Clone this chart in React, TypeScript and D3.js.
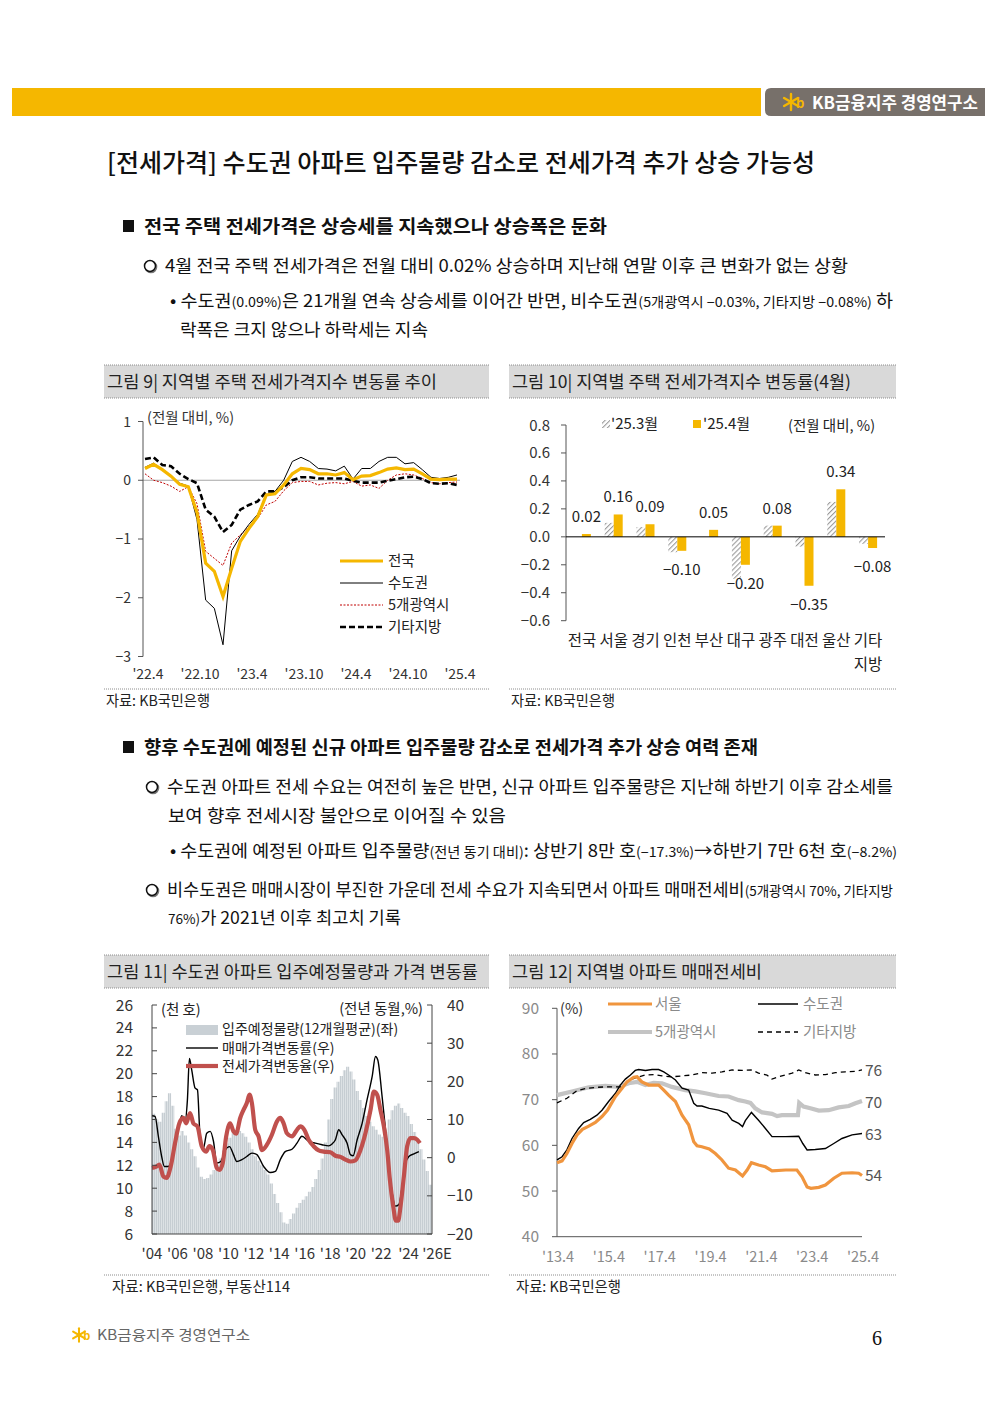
import React from "react";
import * as d3 from "d3";

const FONT = "'Noto Sans CJK KR','Noto Sans',sans-serif";
const GOLD = "#F5B700";

// ---------- Figure 9 : monthly change, '22.4 ~ '25.4 ----------
const f9Ticks = ["'22.4", "'22.10", "'23.4", "'23.10", "'24.4", "'24.10", "'25.4"];
const f9YTicks = [1, 0, -1, -2, -3];
const f9Nation = [0.20, 0.27, 0.18, 0.07, -0.07, -0.11, -0.55, -1.41, -1.55, -1.98, -1.5, -1.04, -0.82, -0.62, -0.25, -0.23, -0.08, 0.11, 0.20, 0.18, 0.11, 0.11, 0.09, 0.13, 0.01, 0.07, 0.08, 0.13, 0.19, 0.21, 0.18, 0.19, 0.11, 0.02, 0.01, 0.02, 0.02];
const f9Capital = [0.22, 0.29, 0.18, 0.07, -0.05, -0.10, -0.67, -2.04, -2.18, -2.80, -1.2, -0.95, -0.75, -0.58, -0.25, -0.19, 0.0, 0.32, 0.39, 0.32, 0.20, 0.19, 0.16, 0.24, 0.02, 0.20, 0.20, 0.32, 0.39, 0.39, 0.28, 0.30, 0.18, 0.05, 0.03, 0.05, 0.09];
const f9Metro = [0.11, 0.0, -0.04, -0.10, -0.19, -0.11, -0.40, -1.21, -1.33, -1.45, -1.07, -0.93, -0.79, -0.65, -0.42, -0.36, -0.18, -0.04, -0.02, -0.02, -0.08, -0.05, -0.04, -0.06, -0.02, -0.10, -0.08, -0.14, 0.0, 0.09, 0.11, 0.09, 0.03, -0.04, -0.06, -0.04, -0.03];
const f9Other = [0.36, 0.39, 0.26, 0.24, 0.11, 0.02, -0.05, -0.50, -0.62, -0.88, -0.76, -0.50, -0.42, -0.36, -0.19, -0.19, -0.12, 0.0, 0.05, 0.05, 0.03, 0.03, 0.03, 0.03, -0.01, -0.04, -0.04, -0.04, -0.01, 0.02, 0.05, 0.06, 0.02, -0.05, -0.06, -0.05, -0.08];

// ---------- Figure 10 : regional change (April) ----------
const f10Cats = ["전국", "서울", "경기", "인천", "부산", "대구", "광주", "대전", "울산", "기타지방"];
const f10Mar = [0.0, 0.10, 0.07, -0.11, 0.0, -0.30, 0.08, -0.07, 0.25, -0.05];
const f10Apr = [0.02, 0.16, 0.09, -0.10, 0.05, -0.20, 0.08, -0.35, 0.34, -0.08];
const f10YTicks = [0.8, 0.6, 0.4, 0.2, 0.0, -0.2, -0.4, -0.6];

// ---------- Figure 11 : supply & price change ----------
const f11Supply = [ // quarterly, 2004Q1 ~ 2025Q4 (천 호)
  16.5, 16.0, 15.8, 16.6, 17.6, 18.3, 17.2, 15.2, 14.6, 15.0, 14.6, 14.0,
  13.4, 12.8, 11.8, 11.0, 10.8, 10.9, 11.2, 11.6, 12.0, 12.6, 13.3, 13.9,
  14.4, 14.8, 15.0, 15.0, 14.8, 14.5, 14.0, 13.4, 12.8, 12.4, 12.0, 11.6,
  11.2, 10.4, 9.5, 8.7, 7.9, 7.0, 6.9, 7.3, 7.8, 8.3, 8.7, 9.0,
  9.3, 9.7, 10.1, 10.8, 11.6, 12.6, 14.0, 16.0, 17.8, 18.8, 19.3, 19.8,
  20.3, 20.6, 20.2, 19.5, 18.5, 17.7, 17.0, 16.3, 15.8, 15.4, 15.1, 14.7,
  14.5, 14.9, 16.0, 16.8, 17.2, 17.4, 17.0, 16.6, 16.3, 15.6, 14.9, 14.2,
  13.4, 12.5, 11.5, 10.3,
];
const f11SaleYear = [2004.0, 2004.24, 2004.5, 2004.76, 2004.97, 2005.29, 2005.68, 2006.07, 2006.34, 2006.6, 2006.78, 2006.94, 2007.12, 2007.39, 2007.57, 2007.78, 2008.04, 2008.3, 2008.57, 2008.83, 2009.09, 2009.41, 2009.75, 2010.09, 2010.4, 2010.67, 2011.06, 2011.45, 2011.85, 2012.24, 2012.77, 2013.29, 2013.69, 2014.08, 2014.47, 2015.0, 2015.39, 2015.78, 2016.31, 2016.83, 2017.36, 2017.88, 2018.15, 2018.41, 2018.67, 2018.94, 2019.33, 2019.59, 2019.8, 2020.12, 2020.51, 2020.9, 2021.3, 2021.56, 2021.74, 2022.08, 2022.35, 2022.61, 2022.87, 2023.13, 2023.4, 2023.66, 2023.92, 2024.18, 2024.58, 2024.97];
const f11SaleVal = [11.0, 10.8, 5.6, 0.3, -2.3, -2.3, 0.8, 7.3, 11.0, 9.5, 15.0, 26.0, 23.0, 18.2, 17.8, 5.6, 2.5, 6.4, 6.9, 4.3, -1.4, -1.0, 2.0, 2.9, 0.8, -1.0, -0.5, 0.3, 1.2, 0.8, -2.3, -3.9, -3.6, -0.5, 1.6, 2.2, 3.8, 5.6, 4.3, 3.8, 3.4, 3.1, 3.6, 4.7, 7.3, 6.0, 3.8, 0.8, 0.5, 4.7, 9.0, 15.2, 21.3, 26.5, 25.6, 16.0, 7.3, -1.4, -9.3, -12.7, -12.3, -7.5, -1.4, 0.3, 1.0, 1.6];
const f11JeonseYear = [2004.0, 2004.37, 2004.58, 2004.89, 2005.15, 2005.47, 2005.81, 2006.15, 2006.47, 2006.68, 2006.99, 2007.25, 2007.57, 2007.91, 2008.25, 2008.51, 2008.78, 2009.09, 2009.3, 2009.56, 2009.83, 2010.14, 2010.4, 2010.61, 2010.93, 2011.19, 2011.45, 2011.66, 2011.85, 2012.11, 2012.37, 2012.64, 2013.03, 2013.42, 2013.82, 2014.08, 2014.34, 2014.6, 2015.0, 2015.39, 2015.65, 2015.97, 2016.31, 2016.7, 2017.1, 2017.49, 2018.02, 2018.41, 2018.8, 2019.2, 2019.59, 2019.98, 2020.38, 2020.77, 2021.17, 2021.43, 2021.69, 2021.95, 2022.22, 2022.48, 2022.69, 2022.95, 2023.16, 2023.34, 2023.53, 2023.79, 2024.05, 2024.31, 2024.58, 2024.84, 2025.05];
const f11JeonseVal = [-2.7, -2.3, -1.8, -4.9, -5.3, -2.3, 3.8, 9.0, 10.4, 9.0, 11.7, 9.0, 8.2, 3.0, 1.6, 3.0, 2.0, -2.7, -3.2, -1.4, 5.6, 9.0, 6.9, 6.3, 10.4, 12.5, 14.3, 16.5, 14.3, 7.3, 5.6, 2.0, 3.4, 6.0, 9.5, 10.4, 9.0, 6.4, 5.6, 7.3, 8.2, 7.3, 4.7, 3.0, 1.9, 1.6, 1.4, 0.5, 0.2, -0.5, -1.0, -0.7, 2.0, 6.4, 12.5, 17.3, 16.5, 12.5, 8.2, 2.0, -5.8, -12.7, -16.5, -16.5, -12.7, -4.9, 3.0, 5.1, 5.1, 4.7, 3.8];
const f11LeftTicks = [26, 24, 22, 20, 18, 16, 14, 12, 10, 8, 6];
const f11RightTicks = [40, 30, 20, 10, 0, -10, -20];
const f11XYears = [2004, 2006, 2008, 2010, 2012, 2014, 2016, 2018, 2020, 2022, 2024, 2026];
const f11XLabels = ["'04", "'06", "'08", "'10", "'12", "'14", "'16", "'18", "'20", "'22", "'24", "'26E"];

// ---------- Figure 12 : jeonse-to-sale ratio ----------
const f12XYears = [2013.25, 2015.25, 2017.25, 2019.25, 2021.25, 2023.25, 2025.25];
const f12XLabels = ["'13.4", "'15.4", "'17.4", "'19.4", "'21.4", "'23.4", "'25.4"];
const f12YTicks = [90, 80, 70, 60, 50, 40];
const f12SeoulYear = [2013.25, 2013.45, 2013.64, 2013.84, 2014.04, 2014.25, 2014.5, 2014.76, 2015.02, 2015.24, 2015.55, 2015.81, 2016.0, 2016.27, 2016.4, 2016.59, 2016.86, 2017.25, 2017.45, 2017.64, 2017.91, 2018.17, 2018.43, 2018.63, 2018.76, 2018.95, 2019.24, 2019.48, 2019.74, 2020.0, 2020.27, 2020.55, 2020.73, 2020.9, 2021.18, 2021.45, 2021.71, 2022.25, 2022.69, 2022.89, 2023.09, 2023.24, 2023.55, 2023.81, 2024.14, 2024.46, 2024.86, 2025.12, 2025.25];
const f12SeoulVal = [56.2, 56.6, 58.2, 60.4, 62.3, 63.5, 64.2, 65.0, 66.3, 67.7, 70.7, 72.5, 73.9, 74.9, 75.0, 73.9, 73.2, 73.2, 72.1, 71.0, 69.6, 66.6, 64.5, 60.8, 59.9, 59.7, 59.2, 58.2, 56.8, 55.0, 54.6, 53.3, 54.6, 56.2, 55.7, 55.3, 54.4, 54.6, 54.6, 53.1, 50.9, 50.6, 50.8, 51.3, 52.8, 53.9, 54.0, 53.9, 53.4];
const f12CapYear = [2013.25, 2013.45, 2013.64, 2013.84, 2014.1, 2014.3, 2014.56, 2014.82, 2015.02, 2015.28, 2015.55, 2015.74, 2015.94, 2016.14, 2016.33, 2016.46, 2016.73, 2016.99, 2017.25, 2017.45, 2017.64, 2017.91, 2018.17, 2018.43, 2018.63, 2018.76, 2018.95, 2019.24, 2019.61, 2019.94, 2020.14, 2020.4, 2020.55, 2020.66, 2020.9, 2021.18, 2021.45, 2021.71, 2022.25, 2022.76, 2022.92, 2023.09, 2023.41, 2023.81, 2024.14, 2024.46, 2024.86, 2025.25];
const f12CapVal = [56.8, 57.5, 59.0, 61.5, 63.7, 65.0, 65.7, 66.6, 67.7, 69.6, 71.4, 73.2, 74.5, 75.4, 76.4, 76.6, 76.4, 76.6, 76.6, 76.1, 75.4, 74.3, 72.5, 72.1, 69.2, 68.6, 68.6, 68.1, 67.7, 67.0, 65.5, 64.8, 64.1, 65.4, 67.2, 65.5, 63.7, 61.9, 61.9, 62.0, 60.4, 59.0, 59.1, 59.3, 60.4, 61.5, 62.3, 62.6];
const f12MetroYear = [2013.25, 2013.84, 2014.5, 2015.15, 2015.68, 2016.07, 2016.4, 2016.73, 2017.05, 2017.38, 2017.77, 2018.3, 2018.69, 2019.09, 2019.61, 2020.0, 2020.4, 2020.66, 2020.86, 2021.05, 2021.32, 2021.71, 2021.91, 2022.1, 2022.36, 2022.73, 2022.78, 2022.95, 2023.22, 2023.55, 2023.94, 2024.33, 2024.73, 2024.99, 2025.25];
const f12MetroVal = [71.0, 71.8, 72.7, 73.0, 72.8, 73.6, 73.9, 73.2, 73.7, 73.6, 72.8, 72.1, 71.8, 71.4, 70.8, 70.7, 69.9, 69.6, 69.3, 68.1, 67.2, 66.9, 66.4, 66.6, 66.6, 66.6, 69.3, 68.5, 68.1, 67.6, 67.7, 68.3, 68.6, 69.2, 69.7];
const f12OtherYear = [2013.25, 2013.64, 2014.04, 2014.43, 2014.82, 2015.15, 2015.48, 2015.81, 2016.07, 2016.4, 2016.73, 2017.05, 2017.38, 2017.77, 2018.17, 2018.56, 2018.95, 2019.35, 2019.74, 2020.14, 2020.53, 2020.92, 2021.18, 2021.51, 2021.71, 2021.91, 2022.23, 2022.5, 2022.76, 2023.02, 2023.41, 2023.81, 2024.2, 2024.59, 2024.99, 2025.25];
const f12OtherVal = [69.3, 70.3, 72.0, 72.5, 72.7, 72.8, 72.8, 72.8, 74.2, 74.9, 75.4, 75.5, 75.2, 75.0, 75.2, 75.4, 75.9, 75.8, 76.1, 76.5, 76.4, 76.5, 75.8, 75.4, 74.5, 74.9, 75.4, 75.8, 76.5, 75.9, 75.4, 75.5, 75.9, 76.1, 76.2, 76.5];
const f12EndLabels = ["76", "70", "63", "54"];

const fmt1 = (v: number) => (v < 0 ? "−" + Math.abs(v).toFixed(1) : v.toFixed(1));
const fmt2 = (v: number) => (v < 0 ? "−" + Math.abs(v).toFixed(2) : v.toFixed(2));
const fmtI = (v: number) => (v < 0 ? "−" + Math.abs(v) : String(v));

function KBStar({ x, y, s = 1 }: { x: number; y: number; s?: number }) {
  const r = 8 * s;
  const angs = [90, 30, 150, -30, 210, -90].map((a) => (a * Math.PI) / 180);
  return (
    <g stroke={GOLD} strokeWidth={2.4 * s} strokeLinecap="round">
      {angs.map((a, i) => (
        <line key={i} x1={x} y1={y} x2={x + Math.cos(a) * r} y2={y - Math.sin(a) * r} />
      ))}
      <text x={x + 5 * s} y={y + 6 * s} fill={GOLD} stroke="none" fontSize={13 * s} fontWeight={700} fontFamily={FONT}>b</text>
    </g>
  );
}

function TitleBar({ x, w, y, text, tl }: { x: number; w: number; y: number; text: string; tl: number }) {
  return (
    <g>
      <rect x={x} y={y} width={w} height={33} fill="#d9d9d9" />
      <line x1={x} x2={x + w} y1={y} y2={y} stroke="#8c8c8c" strokeDasharray="1,1" />
      <line x1={x} x2={x + w} y1={y + 33} y2={y + 33} stroke="#8c8c8c" strokeDasharray="1,1" />
      <text x={x + 3} y={y + 23} fontSize={17} fill="#222" textLength={tl} lengthAdjust="spacingAndGlyphs">{text}</text>
    </g>
  );
}

function Source({ x, w, y, text, tx, tl }: { x: number; w: number; y: number; text: string; tx: number; tl: number }) {
  return (
    <g>
      <line x1={x} x2={x + w} y1={y} y2={y} stroke="#8c8c8c" strokeDasharray="1,1" />
      <text x={tx} y={y + 17} fontSize={14.5} fill="#222" textLength={tl} lengthAdjust="spacingAndGlyphs">{text}</text>
    </g>
  );
}

function Figure9() {
  const x = d3.scaleLinear().domain([0, 36]).range([145, 457]);
  const y = d3.scaleLinear().domain([-3, 1]).range([656.5, 421.5]);
  const line = d3.line<number>().x((_, i) => x(i)).y((d) => y(d));
  const legend = [
    { name: "전국", stroke: GOLD, w: 3, dash: undefined as string | undefined },
    { name: "수도권", stroke: "#000", w: 1, dash: undefined },
    { name: "5개광역시", stroke: "#c00000", w: 1, dash: "2,1.5" },
    { name: "기타지방", stroke: "#000", w: 2.6, dash: "6,3" },
  ];
  return (
    <g>
      <line x1={143} x2={460} y1={y(0)} y2={y(0)} stroke="#a6a6a6" strokeWidth={1} />
      <line x1={143} x2={143} y1={y(1)} y2={y(-3)} stroke="#555" />
      {f9YTicks.map((t) => (
        <g key={t}>
          <line x1={138} x2={143} y1={y(t)} y2={y(t)} stroke="#555" />
          <text x={131} y={y(t) + 5} textAnchor="end" fontSize={14} fill="#333">{fmtI(t)}</text>
        </g>
      ))}
      <text x={147} y={423} fontSize={14.5} fill="#333">(전월 대비, %)</text>
      {f9Ticks.map((t, i) => (
        <text key={t} x={x(i * 6) + 3} y={679} textAnchor="middle" fontSize={14} fill="#333">{t}</text>
      ))}
      <path d={line(f9Metro) || ""} fill="none" stroke="#c00000" strokeWidth={1} strokeDasharray="2,1.5" />
      <path d={line(f9Capital) || ""} fill="none" stroke="#000" strokeWidth={1} />
      <path d={line(f9Other) || ""} fill="none" stroke="#000" strokeWidth={2.6} strokeDasharray="6,3" />
      <path d={line(f9Nation) || ""} fill="none" stroke={GOLD} strokeWidth={3.2} />
      {legend.map((l, i) => (
        <g key={l.name}>
          <line x1={340} x2={383} y1={561 + i * 22} y2={561 + i * 22} stroke={l.stroke} strokeWidth={l.w} strokeDasharray={l.dash} />
          <text x={388} y={566 + i * 22} fontSize={14.5} fill="#222">{l.name}</text>
        </g>
      ))}
    </g>
  );
}

function Figure10() {
  const x = d3.scaleBand<string>().domain(f10Cats).range([566, 884]);
  const y = d3.scaleLinear().domain([-0.6, 0.8]).range([620.7, 425]);
  const bw = 9;
  return (
    <g>
      <defs>
        <pattern id="hatch" patternUnits="userSpaceOnUse" width={3.5} height={3.5} patternTransform="rotate(45)">
          <rect width={3.5} height={3.5} fill="#fff" />
          <line x1={0} y1={0} x2={0} y2={3.5} stroke="#9a9a9a" strokeWidth={2.2} />
        </pattern>
      </defs>
      <line x1={566} x2={566} y1={y(0.8)} y2={y(-0.6)} stroke="#555" />
      {f10YTicks.map((t) => (
        <g key={t}>
          <line x1={561} x2={566} y1={y(t)} y2={y(t)} stroke="#555" />
          <text x={550} y={y(t) + 5.5} textAnchor="end" fontSize={15} fill="#333">{fmt1(t)}</text>
        </g>
      ))}
      {f10Cats.map((c, i) => {
        const cx = (x(c) || 0) + x.bandwidth() / 2;
        const m = f10Mar[i];
        const a = f10Apr[i];
        const lx = cx + bw / 2;
        const ly = a >= 0 ? y(a) - 12 : y(a) + 24;
        return (
          <g key={c}>
            <rect x={cx - bw} width={bw} y={Math.min(y(m), y(0))} height={Math.abs(y(m) - y(0))} fill="url(#hatch)" />
            <rect x={cx} width={bw} y={Math.min(y(a), y(0))} height={Math.abs(y(a) - y(0))} fill={GOLD} />
            <text x={lx} y={ly} textAnchor="middle" fontSize={15} fill="#222">{fmt2(a)}</text>
            {c === "기타지방" ? (
              <>
                <text x={cx} y={646} textAnchor="middle" fontSize={15.5} fill="#222">기타</text>
                <text x={cx} y={670} textAnchor="middle" fontSize={15.5} fill="#222">지방</text>
              </>
            ) : (
              <text x={cx} y={646} textAnchor="middle" fontSize={15.5} fill="#222">{c}</text>
            )}
          </g>
        );
      })}
      <line x1={566} x2={885} y1={y(0)} y2={y(0)} stroke="#000" strokeWidth={1} />
      <rect x={602} y={420} width={8} height={8} fill="url(#hatch)" />
      <text x={611} y={429} fontSize={15} fill="#222">'25.3월</text>
      <rect x={693} y={420} width={8} height={8} fill={GOLD} />
      <text x={703} y={429} fontSize={15} fill="#222">'25.4월</text>
      <text x={788} y={431} fontSize={14.5} fill="#222">(전월 대비, %)</text>
    </g>
  );
}

function Figure11() {
  const x = d3.scaleLinear().domain([2004, 2026]).range([152, 432]);
  const yl = d3.scaleLinear().domain([6, 26]).range([1234, 1005]);
  const yr = d3.scaleLinear().domain([-20, 40]).range([1234, 1005]);
  const sale = d3.line<number>().x((_, i) => x(f11SaleYear[i])).y((d) => yr(d)).curve(d3.curveMonotoneX);
  const jeonse = d3.line<number>().x((_, i) => x(f11JeonseYear[i])).y((d) => yr(d)).curve(d3.curveMonotoneX);
  const supplyPts = [...f11Supply, f11Supply[f11Supply.length - 1]];
  const supplyArea = d3
    .area<number>()
    .x((_, i) => x(2004 + i * 0.25))
    .y0(yl(6))
    .y1((d) => yl(d))
    .curve(d3.curveStepAfter);
  return (
    <g>
      <defs>
        <pattern id="supplyPat" patternUnits="userSpaceOnUse" width={2} height={4}>
          <rect width={2} height={4} fill="#e6eaed" />
          <rect width={1.3} height={4} fill="#c6cdd2" />
        </pattern>
      </defs>
      <path d={supplyArea(supplyPts) || ""} fill="url(#supplyPat)" />
      <path d={sale(f11SaleVal) || ""} fill="none" stroke="#000" strokeWidth={1.4} />
      <path d={jeonse(f11JeonseVal) || ""} fill="none" stroke="#c0504d" strokeWidth={4.2} strokeLinejoin="round" />
      <line x1={152} x2={152} y1={1005} y2={1234} stroke="#444" />
      <line x1={432} x2={432} y1={1005} y2={1234} stroke="#444" />
      <line x1={152} x2={432} y1={1234} y2={1234} stroke="#444" />
      {f11LeftTicks.map((t) => (
        <g key={t}>
          <line x1={152} x2={157} y1={yl(t)} y2={yl(t)} stroke="#444" />
          <text x={133} y={yl(t) + 5.5} textAnchor="end" fontSize={15.5} fill="#333">{t}</text>
        </g>
      ))}
      {f11RightTicks.map((t) => (
        <g key={t}>
          <line x1={427} x2={432} y1={yr(t)} y2={yr(t)} stroke="#444" />
          <text x={447} y={yr(t) + 5.5} fontSize={15.5} fill="#333">{fmtI(t)}</text>
        </g>
      ))}
      {f11XYears.map((yv, i) => (
        <text key={yv} x={x(yv) + (i === 11 ? 5 : i === 10 ? 2 : 0)} y={1259} textAnchor="middle" fontSize={15} fill="#333">{f11XLabels[i]}</text>
      ))}
      <text x={161} y={1015} fontSize={14.5} fill="#222">(천 호)</text>
      <text x={423} y={1014} textAnchor="end" fontSize={14.5} fill="#222">(전년 동월,%)</text>
      <rect x={186} y={1025} width={32} height={10} fill="#c9d0d5" />
      <text x={222} y={1034} fontSize={14} fill="#222">입주예정물량(12개월평균)(좌)</text>
      <line x1={186} x2={218} y1={1048} y2={1048} stroke="#000" strokeWidth={1.4} />
      <text x={222} y={1053} fontSize={14} fill="#222">매매가격변동률(우)</text>
      <line x1={186} x2={218} y1={1066} y2={1066} stroke="#c0504d" strokeWidth={4.2} />
      <text x={222} y={1071} fontSize={14} fill="#222">전세가격변동율(우)</text>
    </g>
  );
}

function Figure12() {
  const x = d3.scaleLinear().domain([2013.25, 2025.25]).range([557, 862]);
  const y = d3.scaleLinear().domain([40, 90]).range([1236.7, 1008.3]);
  const mk = (years: number[]) => d3.line<number>().x((_, i) => x(years[i])).y((d) => y(d));
  const endY = [1076, 1108, 1140, 1181];
  return (
    <g>
      <line x1={557} x2={557} y1={1008.3} y2={1236.7} stroke="#555" />
      <line x1={557} x2={862} y1={1236.7} y2={1236.7} stroke="#555" />
      {f12YTicks.map((t) => (
        <g key={t}>
          <line x1={552} x2={557} y1={y(t)} y2={y(t)} stroke="#555" />
          <text x={539} y={y(t) + 5.5} textAnchor="end" fontSize={15.5} fill="#8a8a8a">{t}</text>
        </g>
      ))}
      {f12XYears.map((yv, i) => (
        <text key={yv} x={x(yv) + 1} y={1262} textAnchor="middle" fontSize={14.5} fill="#8a8a8a">{f12XLabels[i]}</text>
      ))}
      <text x={560} y={1014} fontSize={14.5} fill="#333">(%)</text>
      <path d={mk(f12MetroYear)(f12MetroVal) || ""} fill="none" stroke="#c4c4c4" strokeWidth={4.2} />
      <path d={mk(f12OtherYear)(f12OtherVal) || ""} fill="none" stroke="#000" strokeWidth={1.3} strokeDasharray="5,4" />
      <path d={mk(f12CapYear)(f12CapVal) || ""} fill="none" stroke="#000" strokeWidth={1.4} />
      <path d={mk(f12SeoulYear)(f12SeoulVal) || ""} fill="none" stroke="#f0953e" strokeWidth={3.2} />
      {f12EndLabels.map((l, i) => (
        <text key={l} x={865} y={endY[i]} fontSize={15.5} fill="#555">{l}</text>
      ))}
      <line x1={608} x2={652} y1={1004} y2={1004} stroke="#f0953e" strokeWidth={3.2} />
      <text x={655} y={1009} fontSize={14.5} fill="#8a8a8a">서울</text>
      <line x1={758} x2={798} y1={1004} y2={1004} stroke="#000" strokeWidth={1.4} />
      <text x={803} y={1009} fontSize={14.5} fill="#8a8a8a">수도권</text>
      <line x1={608} x2={652} y1={1032} y2={1032} stroke="#c4c4c4" strokeWidth={4.2} />
      <text x={655} y={1037} fontSize={14.5} fill="#8a8a8a">5개광역시</text>
      <line x1={758} x2={798} y1={1032} y2={1032} stroke="#000" strokeWidth={1.3} strokeDasharray="5,4" />
      <text x={803} y={1037} fontSize={14.5} fill="#8a8a8a">기타지방</text>
    </g>
  );
}

function Circle({ cx, cy }: { cx: number; cy: number }) {
  return (
    <g>
      <circle cx={cx + 1} cy={cy + 1} r={5.5} fill="none" stroke="#777" strokeWidth={1.6} />
      <circle cx={cx} cy={cy} r={5.5} fill="#fff" stroke="#111" strokeWidth={1.5} />
    </g>
  );
}

export default function App() {
  const S = 13.5;
  return (
    <svg width={1000} height={1414} style={{ position: "absolute", left: 0, top: 0, background: "#fff" }} fontFamily={FONT}>
      <rect width={1000} height={1414} fill="#fff" />
      {/* header */}
      <rect x={12} y={88} width={749} height={28} fill={GOLD} />
      <path d="M771,88 H985 V116 H771 Q765,116 765,110 V94 Q765,88 771,88 Z" fill="#77706a" />
      <KBStar x={791} y={102} s={1} />
      <text x={812} y={108.5} fontSize={16.5} fontWeight={700} fill="#fff" textLength={166} lengthAdjust="spacingAndGlyphs">KB금융지주 경영연구소</text>

      {/* title */}
      <text x={107} y={172} fontSize={25} fontWeight={500} fill="#111" textLength={708} lengthAdjust="spacingAndGlyphs">[전세가격] 수도권 아파트 입주물량 감소로 전세가격 추가 상승 가능성</text>

      <rect x={123} y={220} width={11} height={12} fill="#111" />
      <text x={144} y={233} fontSize={18.5} fontWeight={700} fill="#111" textLength={463} lengthAdjust="spacingAndGlyphs">전국 주택 전세가격은 상승세를 지속했으나 상승폭은 둔화</text>
      <Circle cx={150} cy={266} />
      <text x={165} y={272} fontSize={17.5} fill="#111" textLength={683} lengthAdjust="spacingAndGlyphs">4월 전국 주택 전세가격은 전월 대비 0.02% 상승하며 지난해 연말 이후 큰 변화가 없는 상황</text>
      <text x={170} y={307} fontSize={17.5} fill="#111" textLength={723} lengthAdjust="spacingAndGlyphs">
        • 수도권<tspan fontSize={S}>(0.09%)</tspan>은 21개월 연속 상승세를 이어간 반면, 비수도권<tspan fontSize={S}>(5개광역시 −0.03%, 기타지방 −0.08%)</tspan> 하
      </text>
      <text x={180} y={336} fontSize={17.5} fill="#111" textLength={248} lengthAdjust="spacingAndGlyphs">락폭은 크지 않으나 하락세는 지속</text>

      {/* figure 9 / 10 */}
      <TitleBar x={104} w={385} y={365} text="그림 9| 지역별 주택 전세가격지수 변동률 추이" tl={330} />
      <TitleBar x={509} w={387} y={365} text="그림 10| 지역별 주택 전세가격지수 변동률(4월)" tl={339} />
      <Figure9 />
      <Figure10 />
      <Source x={104} w={385} y={689} tx={106} tl={104} text="자료: KB국민은행" />
      <Source x={509} w={387} y={689} tx={511} tl={104} text="자료: KB국민은행" />

      {/* section 2 */}
      <rect x={123} y={741} width={11} height={12} fill="#111" />
      <text x={144} y={754} fontSize={18.5} fontWeight={700} fill="#111" textLength={614} lengthAdjust="spacingAndGlyphs">향후 수도권에 예정된 신규 아파트 입주물량 감소로 전세가격 추가 상승 여력 존재</text>
      <Circle cx={152} cy={787} />
      <text x={167} y={793} fontSize={17.5} fill="#111" textLength={726} lengthAdjust="spacingAndGlyphs">수도권 아파트 전세 수요는 여전히 높은 반면, 신규 아파트 입주물량은 지난해 하반기 이후 감소세를</text>
      <text x={168} y={822} fontSize={17.5} fill="#111" textLength={338} lengthAdjust="spacingAndGlyphs">보여 향후 전세시장 불안으로 이어질 수 있음</text>
      <text x={170} y={857} fontSize={17.5} fill="#111" textLength={727} lengthAdjust="spacingAndGlyphs">
        • 수도권에 예정된 아파트 입주물량<tspan fontSize={S}>(전년 동기 대비)</tspan>: 상반기 8만 호<tspan fontSize={S}>(−17.3%)</tspan>→하반기 7만 6천 호<tspan fontSize={S}>(−8.2%)</tspan>
      </text>
      <Circle cx={152} cy={890} />
      <text x={167} y={896} fontSize={17.5} fill="#111" textLength={726} lengthAdjust="spacingAndGlyphs">
        비수도권은 매매시장이 부진한 가운데 전세 수요가 지속되면서 아파트 매매전세비<tspan fontSize={S}>(5개광역시 70%, 기타지방</tspan>
      </text>
      <text x={168} y={924} fontSize={17.5} fill="#111" textLength={233} lengthAdjust="spacingAndGlyphs">
        <tspan fontSize={S}>76%)</tspan>가 2021년 이후 최고치 기록
      </text>

      {/* figure 11 / 12 */}
      <TitleBar x={104} w={385} y={955} text="그림 11| 수도권 아파트 입주예정물량과 가격 변동률" tl={371} />
      <TitleBar x={509} w={387} y={955} text="그림 12| 지역별 아파트 매매전세비" tl={250} />
      <Figure11 />
      <Figure12 />
      <Source x={104} w={385} y={1275} tx={112} tl={178} text="자료: KB국민은행, 부동산114" />
      <Source x={509} w={387} y={1275} tx={516} tl={105} text="자료: KB국민은행" />

      {/* footer */}
      <KBStar x={79} y={1335} s={0.85} />
      <text x={97} y={1340} fontSize={14} fill="#666" textLength={153} lengthAdjust="spacingAndGlyphs">KB금융지주 경영연구소</text>
      <text x={872} y={1345} fontSize={20} fill="#111" fontFamily="'Liberation Serif','DejaVu Serif',serif">6</text>
    </svg>
  );
}
